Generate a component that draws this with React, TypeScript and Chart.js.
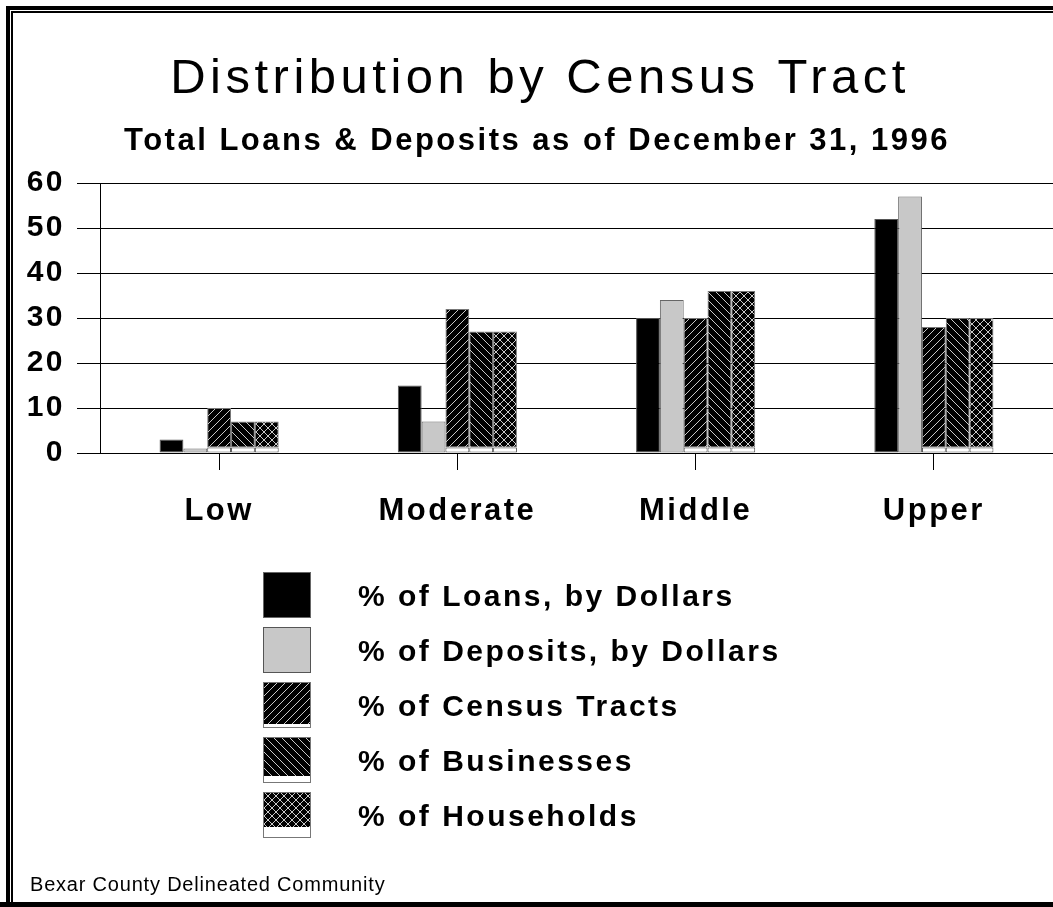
import React, { useEffect, useRef } from 'react';
import { Chart, registerables } from 'chart.js';

Chart.register(...registerables);

const categories = ['Low', 'Moderate', 'Middle', 'Upper'];
const loans = [3, 15, 30, 52];
const deposits = [1, 7, 34, 57];
const censusTracts = [10, 32, 30, 28];
const businesses = [7, 27, 36, 30];
const households = [7, 27, 36, 30];
const whiteBase = [1.2, 1.2, 1.2, 1.2];
const yTicks = [0, 10, 20, 30, 40, 50, 60];
const legendLabels = [
  '% of Loans, by Dollars',
  '% of Deposits, by Dollars',
  '% of Census Tracts',
  '% of Businesses',
  '% of Households',
];
const titleText = 'Distribution by Census Tract';
const subtitleText = 'Total Loans & Deposits as of December 31, 1996';
const footerText = 'Bexar County Delineated Community';

const FONT = '"Liberation Sans", Arial, Helvetica, sans-serif';
const W = 1053;
const H = 907;

function makePattern(kind: 'up' | 'down' | 'cross'): CanvasPattern | string {
  const c = document.createElement('canvas');
  c.width = 8;
  c.height = 8;
  const g = c.getContext('2d');
  if (!g) return '#000';
  g.fillStyle = '#000';
  g.fillRect(0, 0, 8, 8);
  g.strokeStyle = '#c8c8c8';
  g.lineWidth = 1;
  const up = () => {
    g.beginPath();
    g.moveTo(-1, 9); g.lineTo(9, -1);
    g.moveTo(-1, 1); g.lineTo(1, -1);
    g.moveTo(7, 9); g.lineTo(9, 7);
    g.stroke();
  };
  const down = () => {
    g.beginPath();
    g.moveTo(-1, -1); g.lineTo(9, 9);
    g.moveTo(7, -1); g.lineTo(9, 1);
    g.moveTo(-1, 7); g.lineTo(1, 9);
    g.stroke();
  };
  if (kind === 'up') up();
  if (kind === 'down') down();
  if (kind === 'cross') { up(); down(); }
  const p = g.createPattern(c, 'repeat');
  return p || '#000';
}

export default function App() {
  const ref = useRef<HTMLCanvasElement | null>(null);

  useEffect(() => {
    const canvas = ref.current;
    if (!canvas) return;
    const upP = makePattern('up');
    const downP = makePattern('down');
    const crossP = makePattern('cross');

    const swatchFills: any[] = ['#000', '#c8c8c8', upP, downP, crossP];
    const swatchBorders = ['#666', '#555', '#777', '#777', '#777'];
    const swatchStrip = [0, 0, 4, 7, 11];

    const minus = (arr: number[]) => arr.map((v, i) => v - whiteBase[i]);

    const baseDs = (stack: string) => ({
      label: 'base',
      data: whiteBase,
      stack,
      backgroundColor: '#fff',
      borderColor: '#555',
      borderWidth: 1,
      borderSkipped: false,
    });

    const decor = {
      id: 'decor',
      beforeLayout(chart: any) {
        chart.ctx.letterSpacing = '2.5px';
      },
      beforeDraw(chart: any) {
        chart.ctx.letterSpacing = '2.5px';
      },
      afterDraw(chart: any) {
        const ctx: CanvasRenderingContext2D = chart.ctx;
        ctx.save();
        ctx.fillStyle = '#000';
        // Title
        (ctx as any).letterSpacing = '4.5px';
        ctx.font = `normal 49px ${FONT}`;
        ctx.textAlign = 'center';
        ctx.textBaseline = 'alphabetic';
        ctx.fillText(titleText, 540, 93);
        // Subtitle
        (ctx as any).letterSpacing = '2.5px';
        ctx.font = `bold 31px ${FONT}`;
        ctx.fillText(subtitleText, 537, 150);
        // Legend
        const sx = 263;
        const sw = 48;
        const sh = 46;
        ctx.textAlign = 'left';
        ctx.textBaseline = 'middle';
        ctx.font = `bold 30px ${FONT}`;
        for (let i = 0; i < legendLabels.length; i++) {
          const sy = 572 + i * 55;
          ctx.fillStyle = swatchFills[i];
          ctx.fillRect(sx, sy, sw, sh);
          if (swatchStrip[i] > 0) {
            ctx.fillStyle = '#fff';
            ctx.fillRect(sx, sy + sh - swatchStrip[i], sw, swatchStrip[i]);
          }
          ctx.strokeStyle = swatchBorders[i];
          ctx.lineWidth = 1;
          ctx.strokeRect(sx + 0.5, sy + 0.5, sw - 1, sh - 1);
          ctx.fillStyle = '#000';
          ctx.fillText(legendLabels[i], 358, sy + sh / 2 + 3);
        }
        // Footer
        (ctx as any).letterSpacing = '0.8px';
        ctx.font = `normal 20px ${FONT}`;
        ctx.textBaseline = 'alphabetic';
        ctx.fillText(footerText, 30, 891);
        // Frame
        ctx.fillStyle = '#000';
        ctx.fillRect(6, 6, W - 6, 4);
        ctx.fillRect(6, 6, 4, H - 6);
        ctx.fillRect(11, 11, W - 11, 2);
        ctx.fillRect(11, 11, 2, H - 11);
        ctx.fillRect(0, 902, W, 5);
        ctx.restore();
      },
    };

    const chart = new Chart(canvas, {
      type: 'bar',
      data: {
        labels: categories,
        datasets: [
          {
            label: legendLabels[0],
            data: loans,
            stack: 's1',
            backgroundColor: '#000',
            borderColor: '#555',
            borderWidth: 1,
            borderSkipped: false,
          },
          {
            label: legendLabels[1],
            data: deposits,
            stack: 's2',
            backgroundColor: '#c8c8c8',
            borderColor: '#666',
            borderWidth: 1,
            borderSkipped: false,
          },
          baseDs('s3'),
          {
            label: legendLabels[2],
            data: minus(censusTracts),
            stack: 's3',
            backgroundColor: upP as any,
            borderColor: '#777',
            borderWidth: 1,
            borderSkipped: false,
          },
          baseDs('s4'),
          {
            label: legendLabels[3],
            data: minus(businesses),
            stack: 's4',
            backgroundColor: downP as any,
            borderColor: '#777',
            borderWidth: 1,
            borderSkipped: false,
          },
          baseDs('s5'),
          {
            label: legendLabels[4],
            data: minus(households),
            stack: 's5',
            backgroundColor: crossP as any,
            borderColor: '#777',
            borderWidth: 1,
            borderSkipped: false,
          },
        ] as any,
      },
      options: {
        responsive: false,
        animation: false,
        events: [],
        layout: { padding: { top: 183, left: 0, right: 0, bottom: 0 } },
        datasets: {
          bar: { categoryPercentage: 0.5, barPercentage: 1 },
        } as any,
        plugins: {
          legend: { display: false },
          title: { display: false },
          tooltip: { enabled: false },
        },
        scales: {
          x: {
            stacked: true,
            grid: {
              display: true,
              drawOnChartArea: false,
              drawTicks: true,
              tickLength: 17,
              offset: false,
              color: '#000',
              lineWidth: 1,
            },
            border: { display: true, color: '#000', width: 1 },
            ticks: {
              color: '#000',
              font: { family: FONT, size: 31, weight: 'bold' },
              padding: 23,
              maxRotation: 0,
            },
            afterFit: (s: any) => {
              s.height = H - 453;
            },
          },
          y: {
            stacked: true,
            min: 0,
            max: 60,
            afterBuildTicks: (s: any) => {
              s.ticks = yTicks.map((v) => ({ value: v }));
            },
            grid: {
              color: '#000',
              lineWidth: 1,
              tickLength: 23,
              drawTicks: true,
            },
            border: { display: true, color: '#000', width: 1 },
            ticks: {
              color: '#000',
              font: { family: FONT, size: 30, weight: 'bold' },
              padding: 12,
            },
            afterFit: (s: any) => {
              s.width = 100;
            },
          },
        },
      } as any,
      plugins: [decor],
    });

    return () => {
      chart.destroy();
    };
  }, []);

  return (
    <div style={{ position: 'absolute', left: 0, top: 0, width: W, height: H, background: '#fff' }}>
      <canvas ref={ref} width={W} height={H} style={{ display: 'block', width: W, height: H }} />
    </div>
  );
}
